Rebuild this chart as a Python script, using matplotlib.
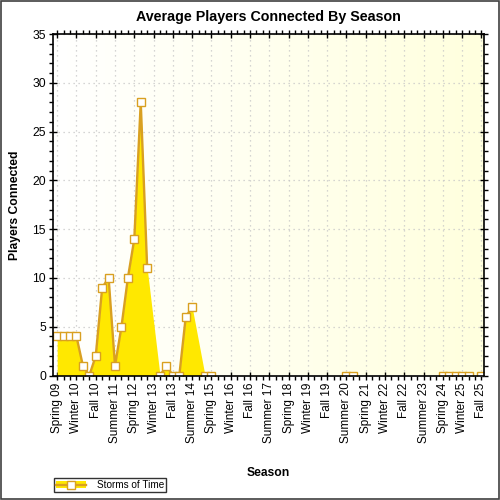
import numpy as np
import matplotlib
matplotlib.use("Agg")
import matplotlib.pyplot as plt
from matplotlib.patches import Patch, Rectangle
from matplotlib.lines import Line2D
from matplotlib.ticker import MultipleLocator, FixedLocator

plt.rcParams['font.family'] = ['Liberation Sans', 'DejaVu Sans']

# ---- data ----
n_categories = 67  # Spring 09 .. Fall 25

tick_labels = ["Spring 09", "Winter 10", "Fall 10", "Summer 11", "Spring 12",
               "Winter 13", "Fall 13", "Summer 14", "Spring 15", "Winter 16",
               "Fall 16", "Summer 17", "Spring 18", "Winter 19", "Fall 19",
               "Summer 20", "Spring 21", "Winter 22", "Fall 22", "Summer 23",
               "Spring 24", "Winter 25", "Fall 25"]

# average players per season index (missing index = no data)
players = {0: 4, 1: 4, 2: 4, 3: 4, 4: 1, 5: 0, 6: 2, 7: 9, 8: 10, 9: 1,
           10: 5, 11: 10, 12: 14, 13: 28, 14: 11,
           16: 0, 17: 1, 18: 0, 19: 0, 20: 6, 21: 7,
           23: 0, 24: 0,
           45: 0, 46: 0,
           60: 0, 61: 0, 62: 0, 63: 0, 64: 0,
           66: 0}
series_name = "Storms of Time"

# ---- styling ----
fill_col = '#FFE800'
line_col = '#D9A021'

fig = plt.figure(figsize=(5, 5), dpi=100)
fig.patch.set_facecolor('white')
fig.patches.append(Rectangle((0.001, 0.003), 0.996, 0.996, transform=fig.transFigure,
                             fill=False, edgecolor='#404040', lw=1.2))

ax = fig.add_axes([0.106, 0.249, 0.862, 0.683])

# gradient background
grad = np.linspace(0, 1, 256).reshape(1, -1)
c0 = np.array([1.0, 1.0, 1.0])
c1 = np.array([1.0, 1.0, 0.87])
img = c0[None, None, :] * (1 - grad[..., None]) + c1[None, None, :] * grad[..., None]
ax.imshow(img, extent=[0, 1, 0, 1], transform=ax.transAxes, aspect='auto', zorder=0)

idx_all = np.arange(n_categories)
vals = np.array([players.get(i, np.nan) for i in idx_all], dtype=float)
mask = ~np.isnan(vals)
ax.fill_between(idx_all[mask], 0, vals[mask], color=fill_col, lw=0, zorder=2)
ax.plot(idx_all, vals, color=line_col, lw=1.7, zorder=3)
ax.plot(idx_all[mask], vals[mask], ls='none', marker='s', ms=5.6, mfc='white',
        mec=line_col, mew=1.0, zorder=4)

ax.set_xlim(-0.65, 66.4)
ax.set_ylim(0, 35)

major_x = np.arange(0, n_categories, 3)
ax.xaxis.set_major_locator(FixedLocator(major_x))
ax.xaxis.set_minor_locator(FixedLocator(idx_all))
ax.set_xticklabels(tick_labels, rotation=90, fontsize=8.5)
ax.yaxis.set_major_locator(MultipleLocator(5))
ax.yaxis.set_minor_locator(MultipleLocator(1))
ax.tick_params(axis='y', labelsize=8.7)

ax.tick_params(which='major', direction='inout', length=6, width=1,
               top=True, right=True, labeltop=False, labelright=False)
ax.tick_params(which='minor', direction='out', length=3, width=1,
               top=True, right=True)
ax.tick_params(axis='x', pad=2)
ax.tick_params(axis='y', pad=2)

ax.grid(True, which='major', color='#C8C8C8', ls=(0, (1, 3)), lw=0.9, zorder=1)
ax.set_axisbelow(True)
for s in ax.spines.values():
    s.set_linewidth(1.2)
    s.set_color('black')
    s.set_zorder(5)

ax.set_title("Average Players Connected By Season", fontsize=10.3, fontweight='bold', pad=9)
ax.set_xlabel("Season", fontsize=8.7, fontweight='bold', labelpad=17)
ax.set_ylabel("Players Connected", fontsize=8.7, fontweight='bold', labelpad=8)

h_fill = Patch(facecolor=fill_col, edgecolor='none')
h_line = Line2D([], [], color=line_col, lw=1.7, marker='s', ms=5.2, mfc='white', mec=line_col)
leg = fig.legend([(h_fill, h_line)], [series_name], loc='lower left',
                 bbox_to_anchor=(0.108, 0.016), fontsize=7.2, frameon=True,
                 fancybox=False, edgecolor='black', borderpad=0.2,
                 handlelength=3.0, handletextpad=1.1, borderaxespad=0)
leg.get_frame().set_linewidth(1.0)

fig.savefig('out.png', dpi=100)
